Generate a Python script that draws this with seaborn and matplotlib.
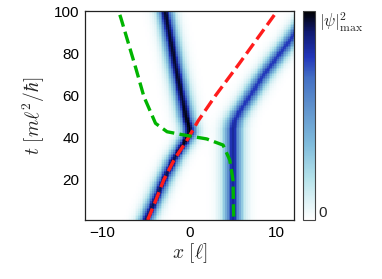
import numpy as np
import matplotlib
matplotlib.use("Agg")
import matplotlib.pyplot as plt
import seaborn as sns
from matplotlib.colors import LinearSegmentedColormap

# ---- values ----
# soliton centre tracks (t, x) and peak density along them
left_t = [0, 10, 20, 30, 37, 42, 45, 50, 60, 75, 87, 100]
left_x = [-5.1, -4.0, -2.95, -1.75, -0.7, 0.0, -0.05, -0.4, -0.9, -1.65, -2.2, -2.8]
left_amp = [0.92, 0.92, 0.92, 0.93, 0.97, 1.0, 1.0, 0.98, 0.96, 0.96, 0.96, 0.96]

right_t = [0, 20, 44, 48, 52, 57, 69, 86.5, 100]
right_x = [5.0, 5.0, 5.0, 5.2, 5.7, 6.5, 8.4, 11.6, 14.0]
right_amp = [0.83, 0.83, 0.83, 0.81, 0.79, 0.78, 0.78, 0.78, 0.78]

# dashed guide curves
red_t = [1, 10, 20, 30, 38, 48, 60, 75, 99]
red_x = [-4.8, -3.9, -2.95, -1.7, -0.4, 1.0, 3.0, 5.7, 9.9]
green_t = [98.2, 96.7, 73.0, 59.4, 46.8, 42.8, 41.3, 39.4, 36.5, 29.4, 19.9, 1.0]
green_x = [-8.0, -7.88, -6.17, -5.23, -3.9, -2.57, -0.68, 1.98, 3.86, 4.63, 5.0, 5.08]

x_ticks = [-10, 0, 10]
t_ticks = [20, 40, 60, 80, 100]

# ---- density field from the tracks ----
xg = np.arange(-12, 12.001, 0.2)
tg = np.arange(0, 100.001, 0.8)
X, T = np.meshgrid(xg, tg)
lc = np.interp(tg, left_t, left_x)[:, None]
la = np.interp(tg, left_t, left_amp)[:, None]
rc = np.interp(tg, right_t, right_x)[:, None]
ra = np.interp(tg, right_t, right_amp)[:, None]
dens = la / np.cosh((X - lc) / 0.8) ** 2 + ra / np.cosh((X - rc) / 0.92) ** 2

cmap = LinearSegmentedColormap.from_list("psi", [
    (0.0, "#ffffff"), (0.2, "#b4e2ea"), (0.36, "#80bcdc"), (0.55, "#5e90cc"),
    (0.68, "#4470c4"), (0.78, "#2236ba"), (0.9, "#101a70"), (1.0, "#000000")])

sns.set_style("ticks")
plt.rcParams["mathtext.fontset"] = "cm"
plt.rcParams["font.family"] = ["Liberation Sans", "DejaVu Sans"]

fig = plt.figure(figsize=(3.82, 2.79), dpi=100)
ax = fig.add_axes([0.2225, 0.2115, 0.547, 0.749])
cax = fig.add_axes([0.793, 0.2115, 0.0306, 0.749])

mesh = ax.pcolormesh(xg, tg, dens, cmap=cmap, vmin=0, vmax=1, shading="nearest")

sns.lineplot(x=red_x, y=red_t, sort=False, ax=ax, color="#ff1c1c", lw=2.4,
             dashes=False, linestyle="--", estimator=None)
sns.lineplot(x=green_x, y=green_t, sort=False, ax=ax, color="#00b400", lw=2.4,
             dashes=False, linestyle="--", estimator=None)

ax.set_xlim(-12, 12)
ax.set_ylim(1, 100)
ax.set_xticks(x_ticks)
ax.set_yticks(t_ticks)
ax.tick_params(direction="in", length=3, width=0.8, top=True, right=True,
               labelsize=11, colors="black", pad=4)
for s in ax.spines.values():
    s.set_linewidth(0.9)
    s.set_color("#222222")
ax.set_xlabel(r"$x\ [\ell]$", fontsize=14, labelpad=1)
ax.set_ylabel(r"$t\ [m\ell^2/\hbar]$", fontsize=14, labelpad=5)

cb = fig.colorbar(mesh, cax=cax)
cb.set_ticks([0, 1])
cb.set_ticklabels(["0", r"$|\psi|^2_{\max}$"])
cb.ax.tick_params(length=0, labelsize=11, pad=3)
cb.outline.set_linewidth(0.8)
cb.outline.set_edgecolor("#444444")
lbls = cb.ax.get_yticklabels()
lbls[0].set_verticalalignment("bottom")
lbls[1].set_verticalalignment("top")
lbls[1].set_fontsize(12)

fig.savefig("out.png", dpi=100)
